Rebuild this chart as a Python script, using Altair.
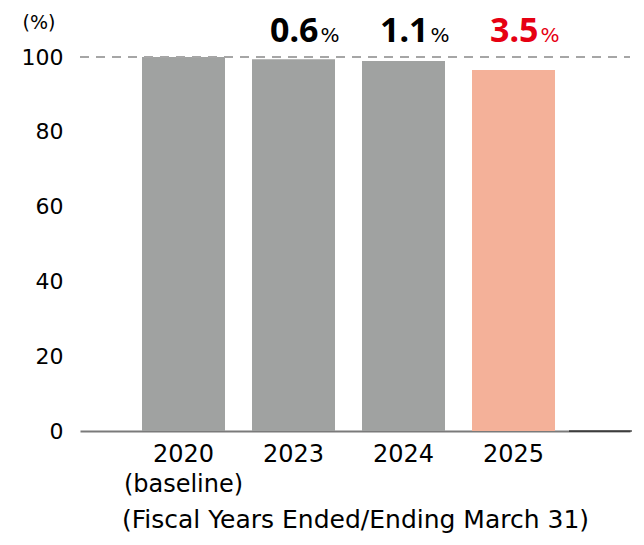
import altair as alt
import pandas as pd

years = ["2020", "2023", "2024", "2025"]
values = [100.0, 99.4, 98.9, 96.5]
bar_colors = ["#a0a2a1", "#a0a2a1", "#a0a2a1", "#f4b199"]
reductions = ["", "0.6", "1.1", "3.5"]
label_colors = ["#000000", "#000000", "#000000", "#e60012"]
y_ticks = [0, 20, 40, 60, 80, 100]

df = pd.DataFrame({
    "year": years,
    "value": values,
    "color": bar_colors,
    "red": reductions,
    "lcolor": label_colors,
})
df["pct"] = df["red"].apply(lambda s: "%" if s else "")

FONT = "DejaVu Sans"
NUMFONT = "Noto Sans"

xscale = alt.Scale(domain=years, paddingInner=0.2455, paddingOuter=0.6227, align=0.4526)
yscale = alt.Scale(domain=[0, 100])

x_enc = alt.X(
    "year:N",
    scale=xscale,
    sort=years,
    axis=alt.Axis(
        title="(Fiscal Years Ended/Ending March 31)",
        titleFont=FONT,
        titleFontSize=25,
        titleFontWeight="normal",
        titleColor="#000000",
        titlePadding=11,
        labelAngle=0,
        labelFont=FONT,
        labelFontSize=24,
        labelColor="#000000",
        labelPadding=11,
        labelLineHeight=30,
        labelExpr="datum.value == '2020' ? ['2020', '(baseline)'] : datum.value",
        ticks=False,
        domain=True,
        domainColor="#7a7a7a",
        domainWidth=2,
    ),
)

bars = alt.Chart(df).mark_bar().encode(
    x=x_enc,
    y=alt.Y(
        "value:Q",
        scale=yscale,
        axis=alt.Axis(
            title=None,
            values=y_ticks,
            grid=False,
            ticks=False,
            domain=False,
            labelFont=FONT,
            labelFontSize=22,
            labelColor="#000000",
            labelPadding=17,
        ),
    ),
    color=alt.Color("color:N", scale=None),
)

dash = alt.Chart(pd.DataFrame({"v": [100]})).mark_rule(
    color="#a6a6a6", strokeWidth=2, strokeDash=[9, 7]
).encode(y=alt.Y("v:Q", scale=yscale), x=alt.value(0), x2=alt.value(550))

blackline = alt.Chart(pd.DataFrame({"v": [0]})).mark_rule(
    color="#000000", strokeWidth=1.2
).encode(y=alt.Y("v:Q", scale=yscale), x=alt.value(489), x2=alt.value(552))

nums = alt.Chart(df).mark_text(
    font=NUMFONT, fontSize=34, fontWeight="bold", align="right", baseline="alphabetic", dx=25
).encode(
    x=alt.X("year:N", scale=xscale, sort=years),
    y=alt.value(-15),
    text="red:N",
    color=alt.Color("lcolor:N", scale=None),
)

pcts = alt.Chart(df).mark_text(
    font=FONT, fontSize=20, fontWeight="normal", align="left", baseline="alphabetic", dx=27
).encode(
    x=alt.X("year:N", scale=xscale, sort=years),
    y=alt.value(-15),
    text="pct:N",
    color=alt.Color("lcolor:N", scale=None),
)

unit = alt.Chart(pd.DataFrame({"t": ["(%)"]})).mark_text(
    font=FONT, fontSize=19, align="center", baseline="middle", color="#000000"
).encode(x=alt.value(-41), y=alt.value(-34), text="t:N")

chart = alt.layer(bars, dash, blackline, nums, pcts, unit).properties(
    width=550,
    height=374,
    padding={"left": 72, "top": 49, "right": 6, "bottom": 106},
    autosize=alt.AutoSizeParams(type="none"),
).configure_view(stroke=None)

chart.save("out.html", embed_options={"renderer": "svg", "actions": False})
